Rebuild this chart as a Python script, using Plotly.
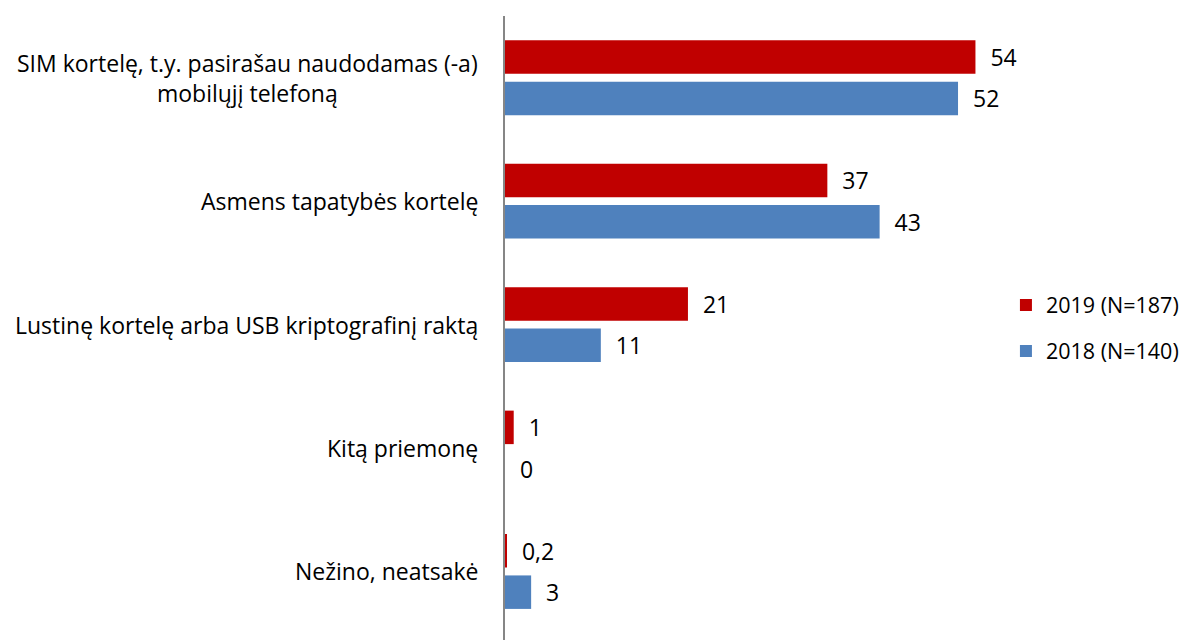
import plotly.graph_objects as go

categories = [
    "SIM kortelę, t.y. pasirašau naudodamas (-a)<br>mobilųjį telefoną",
    "Asmens tapatybės kortelę",
    "Lustinę kortelę arba USB kriptografinį raktą",
    "Kitą priemonę",
    "Nežino, neatsakė",
]
values_2019 = [54, 37, 21, 1, 0.2]
values_2018 = [52, 43, 11, 0, 3]
labels_2019 = ["54", "37", "21", "1", "0,2"]
labels_2018 = ["52", "43", "11", "0", "3"]
series_names = ["2019 (N=187)", "2018 (N=140)"]

FONT = "Open Sans"
positions = list(range(len(categories)))

fig = go.Figure()
for name, vals, labels, color in [
    (series_names[0], values_2019, labels_2019, "#C00000"),
    (series_names[1], values_2018, labels_2018, "#4F81BD"),
]:
    fig.add_trace(
        go.Bar(
            y=positions,
            x=vals,
            orientation="h",
            name=name,
            legendgroup=name,
            marker={"color": color, "line": {"width": 0}},
            text=["  " + t for t in labels],
            textposition="outside",
            textfont={"size": 23, "color": "#000000", "family": FONT},
            constraintext="none",
            cliponaxis=False,
        )
    )

for pos, cat in zip(positions, categories):
    fig.add_annotation(
        x=0,
        xref="paper",
        y=pos,
        yref="y",
        text=cat,
        showarrow=False,
        xanchor="right",
        align="center",
        xshift=-25,
        font={"size": 23, "color": "#000000", "family": FONT},
    )

# page body adds an 8px margin, so the figure is shifted by that much
fig.update_layout(
    width=1187,
    height=632,
    margin={"l": 497, "r": 0, "t": 8, "b": 0, "autoexpand": False},
    plot_bgcolor="white",
    paper_bgcolor="white",
    barmode="group",
    bargap=0.33,
    bargroupgap=0.19,
    font={"family": FONT, "size": 21.5, "color": "#000000"},
    legend={
        "x": 0.726,
        "xanchor": "left",
        "y": 0.5,
        "yanchor": "middle",
        "font": {"size": 21.5, "family": FONT},
        "tracegroupgap": 15,
        "bgcolor": "rgba(0,0,0,0)",
    },
    xaxis={
        "range": [0, 79.2],
        "showgrid": False,
        "zeroline": False,
        "showticklabels": False,
        "showline": False,
    },
    yaxis={
        "range": [len(categories) - 0.445, -0.5],
        "showgrid": False,
        "zeroline": False,
        "showticklabels": False,
        "showline": True,
        "linecolor": "#868686",
        "linewidth": 2,
        "ticks": "",
    },
)

fig.write_html("out.html")
